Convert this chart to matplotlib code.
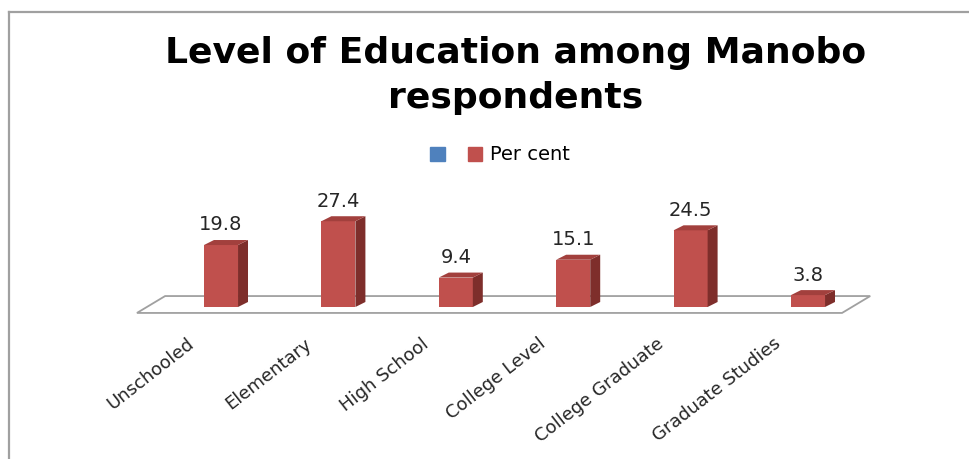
"""Level of education among Manobo respondents - pseudo-3D column chart."""
import numpy as np
import matplotlib
matplotlib.use("Agg")
import matplotlib.pyplot as plt
from matplotlib.patches import Patch
from matplotlib.lines import Line2D

categories = ["Unschooled", "Elementary", "High School", "College Level",
              "College Graduate", "Graduate Studies"]
per_cent = [19.8, 27.4, 9.4, 15.1, 24.5, 3.8]
series_names = ["", "Per cent"]

FRONT = "#c0504d"
SIDE = "#7e2e2b"
TOP = "#a2403d"
BLUE = "#4f81bd"
GREY = "#a0a0a0"
TXT = "#262626"

plt.rcParams["font.family"] = ["DejaVu Sans"]

W, H = 970, 459
fig = plt.figure(figsize=(W / 100, H / 100), dpi=100)
fig.patch.set_facecolor("white")

# axes placed so bar centres / baseline land where the original has them
ax = fig.add_axes([100 / W, (H - 330) / H, 800 / W, 180 / H])
x = np.arange(len(categories))
px_per_x, px_per_y = 117.4, 3.13
ax.set_xlim((100 - 221) / px_per_x, (900 - 221) / px_per_x)
ax.set_ylim(-(330 - 307) / px_per_y, (307 - 150) / px_per_y)
ax.axis("off")

# floor
fdx, fy0, fy1 = 0.24, -1.9, 3.5
fl, fr = -0.716, 5.29
ax.fill([fl, fr, fr + fdx, fl + fdx], [fy0, fy0, fy1, fy1],
        facecolor="white", edgecolor=GREY, lw=1.3, zorder=1)

# bars: front face + side + top
bw, ddx, ddy = 0.29, 0.085, 1.6
bars = ax.bar(x, per_cent, width=bw, color=FRONT, zorder=3)
for b, v in zip(bars, per_cent):
    x0, x1 = b.get_x(), b.get_x() + b.get_width()
    ax.fill([x1, x1 + ddx, x1 + ddx, x1], [0, ddy, v + ddy, v],
            color=SIDE, lw=0, zorder=3)
    ax.fill([x0, x1, x1 + ddx, x0 + ddx], [v, v, v + ddy, v + ddy],
            color=TOP, lw=0, zorder=3)
    ax.annotate(f"{v:.1f}", (b.get_x() + bw / 2, v), xytext=(0, 10.5),
                textcoords="offset points", ha="center", va="baseline",
                fontsize=14, color=TXT)

for xi, lab in zip(x, categories):
    ax.annotate(lab, (xi, 0), xytext=(-25, -20), textcoords="offset points",
                ha="right", va="top", rotation=38, rotation_mode="anchor",
                fontsize=13, color=TXT)

# title
fig.text(516 / W, 1 - 63 / H, "Level of Education among Manobo",
         ha="center", va="baseline", fontsize=26, fontweight="bold")
fig.text(516 / W, 1 - 108 / H, "respondents",
         ha="center", va="baseline", fontsize=26, fontweight="bold")

# legend
handles = [Patch(color=BLUE), Patch(color=FRONT)]
fig.legend(handles, series_names, loc="center", ncol=2, frameon=False,
           bbox_to_anchor=(500 / W, 1 - 155 / H), fontsize=14,
           handlelength=0.75, handleheight=0.75, handletextpad=0.4,
           columnspacing=0.8)

# chart-area border (left and top edges visible in the crop)
fig.add_artist(Line2D([9.5 / W, 9.5 / W], [0, 1 - 12 / H], color=GREY, lw=1.6))
fig.add_artist(Line2D([9.5 / W, 1], [1 - 12 / H, 1 - 12 / H], color=GREY, lw=1.6))

fig.savefig("out.png", dpi=100)
